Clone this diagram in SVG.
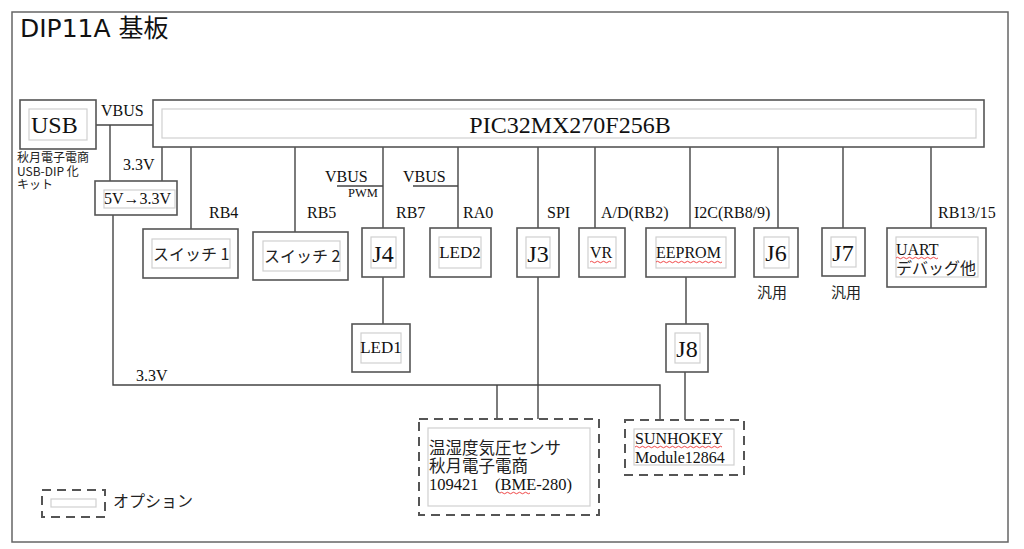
<svg xmlns="http://www.w3.org/2000/svg" width="1024" height="549" viewBox="0 0 1024 549">
<style>
.frame{fill:#fff;stroke:#666;stroke-width:1.5}
.box{fill:#fff;stroke:#555;stroke-width:1.6}
.opt{fill:#fff;stroke:#555;stroke-width:2;stroke-dasharray:9 6}
.inner{fill:none;stroke:#d0d0d0;stroke-width:1.2}
.wire{fill:none;stroke:#444;stroke-width:1.4}
.s{font-family:"Liberation Serif","Noto Sans CJK JP",serif;fill:#111}
.g{font-family:"DejaVu Sans","Noto Sans CJK JP",sans-serif;fill:#111}
.j{font-family:"Noto Sans CJK JP","DejaVu Sans",sans-serif;fill:#222}
.wave{fill:none;stroke:#e33;stroke-width:0.9}
</style>
<rect x="0" y="0" width="1024" height="549" fill="#fff"/>
<rect class="frame" x="12" y="12" width="996" height="530"/>
<text class="g" x="20" y="37" font-size="25">DIP11A 基板</text>

<g id="connectors">
  <path class="wire" d="M96,125 H153"/>
  <path class="wire" d="M110,125 V181"/>
  <path class="wire" d="M162,147 V181"/>
  <path class="wire" d="M113,215 V385 H660 V420"/>
  <path class="wire" d="M497,385 V419"/>
  <path class="wire" d="M191,147 V229"/>
  <path class="wire" d="M295,147 V232"/>
  <path class="wire" d="M383,147 V228"/>
  <path class="wire" d="M337,186 H383"/>
  <path class="wire" d="M458,147 V228"/>
  <path class="wire" d="M413,186 H458"/>
  <path class="wire" d="M538,147 V228"/>
  <path class="wire" d="M595,147 V228"/>
  <path class="wire" d="M690,147 V228"/>
  <path class="wire" d="M778,147 V228"/>
  <path class="wire" d="M843,147 V228"/>
  <path class="wire" d="M931,147 V228"/>
  <path class="wire" d="M383,277 V324"/>
  <path class="wire" d="M686,277 V324"/>
  <path class="wire" d="M685,372 V420"/>
  <path class="wire" d="M538,277 V419"/>
</g>

<g id="labels">
  <text class="s" x="101" y="116" font-size="16">VBUS</text>
  <text class="s" x="123" y="170" font-size="16">3.3V</text>
  <text class="s" x="209" y="218" font-size="16">RB4</text>
  <text class="s" x="307" y="218" font-size="16">RB5</text>
  <text class="s" x="325" y="182" font-size="16">VBUS</text>
  <text class="s" x="348" y="197" font-size="12.5">PWM</text>
  <text class="s" x="396" y="218" font-size="16">RB7</text>
  <text class="s" x="403" y="182" font-size="16">VBUS</text>
  <text class="s" x="463" y="218" font-size="16">RA0</text>
  <text class="s" x="547" y="218" font-size="16">SPI</text>
  <text class="s" x="601" y="218" font-size="16">A/D(RB2)</text>
  <text class="s" x="694" y="218" font-size="16">I2C(RB8/9)</text>
  <text class="s" x="938" y="218" font-size="16">RB13/15</text>
  <text class="s" x="136" y="381" font-size="16">3.3V</text>
</g>

<g id="usb">
  <rect class="box" x="20" y="100" width="76" height="49"/>
  <rect class="inner" x="29" y="109" width="58" height="31"/>
  <text class="s" x="31" y="133" font-size="24">USB</text>
  <text class="j" x="17" y="162" font-size="12">秋月電子電商</text>
  <text class="j" x="17" y="176" font-size="12">USB-DIP 化</text>
  <text class="j" x="17" y="189" font-size="12">キット</text>
</g>

<g id="pic">
  <rect class="box" x="153" y="100" width="831" height="47"/>
  <rect class="inner" x="162" y="109" width="814" height="29"/>
  <text class="s" x="570" y="133" font-size="24" text-anchor="middle">PIC32MX270F256B</text>
</g>

<g id="reg">
  <rect class="box" x="95" y="181" width="82" height="34"/>
  <rect class="inner" x="104" y="190" width="71" height="18"/>
  <text class="s" x="104" y="204" font-size="16">5V→3.3V</text>
</g>

<g id="sw1">
  <rect class="box" x="143" y="229" width="95" height="49"/>
  <rect class="inner" x="152" y="239" width="78" height="29"/>
  <text class="j" x="153" y="260" font-size="16">スイッチ 1</text>
</g>

<g id="sw2">
  <rect class="box" x="253" y="232" width="95" height="48"/>
  <rect class="inner" x="263" y="241" width="77" height="30"/>
  <text class="j" x="264" y="262" font-size="16">スイッチ 2</text>
</g>

<g id="j4">
  <rect class="box" x="362" y="228" width="42" height="49"/>
  <rect class="inner" x="371" y="237" width="25" height="31"/>
  <text class="s" x="383" y="262" font-size="24" text-anchor="middle">J4</text>
</g>

<g id="led2">
  <rect class="box" x="430" y="228" width="61" height="49"/>
  <rect class="inner" x="439" y="237" width="42" height="31"/>
  <text class="s" x="460" y="258" font-size="17" text-anchor="middle">LED2</text>
</g>

<g id="j3">
  <rect class="box" x="517" y="228" width="42" height="49"/>
  <rect class="inner" x="526" y="237" width="24" height="31"/>
  <text class="s" x="538" y="262" font-size="24" text-anchor="middle">J3</text>
</g>

<g id="vr">
  <rect class="box" x="579" y="228" width="46" height="49"/>
  <rect class="inner" x="588" y="237" width="28" height="31"/>
  <text class="s" x="590" y="258" font-size="16">VR</text>
  <path class="wave" d="M590,262 q1.5,-1.5 3,0 t3,0 t3,0 t3,0 t3,0 t3,0 t3,0"/>
</g>

<g id="eeprom">
  <rect class="box" x="646" y="228" width="89" height="49"/>
  <rect class="inner" x="656" y="237" width="70" height="31"/>
  <text class="s" x="656" y="258" font-size="16">EEPROM</text>
  <path class="wave" d="M656,262 q1.5,-1.5 3,0 t3,0 t3,0 t3,0 t3,0 t3,0 t3,0 t3,0 t3,0 t3,0 t3,0 t3,0 t3,0 t3,0 t3,0 t3,0 t3,0 t3,0 t3,0 t3,0 t3,0 t3,0"/>
</g>

<g id="j6">
  <rect class="box" x="754" y="228" width="44" height="49"/>
  <rect class="inner" x="764" y="237" width="25" height="31"/>
  <text class="s" x="776" y="261" font-size="24" text-anchor="middle">J6</text>
  <text class="j" x="757" y="298" font-size="15">汎用</text>
</g>

<g id="j7">
  <rect class="box" x="822" y="228" width="43" height="48"/>
  <rect class="inner" x="831" y="237" width="25" height="30"/>
  <text class="s" x="843" y="261" font-size="24" text-anchor="middle">J7</text>
  <text class="j" x="831" y="298" font-size="15">汎用</text>
</g>

<g id="uart">
  <rect class="box" x="887" y="228" width="99" height="59"/>
  <rect class="inner" x="896" y="237" width="82" height="40"/>
  <text class="s" x="896" y="255" font-size="16">UART</text>
  <path class="wave" d="M896,258 q1.5,-1.5 3,0 t3,0 t3,0 t3,0 t3,0 t3,0 t3,0 t3,0 t3,0 t3,0 t3,0 t3,0 t3,0 t3,0"/>
  <text class="j" x="896" y="274" font-size="16">デバッグ他</text>
</g>

<g id="led1">
  <rect class="box" x="352" y="324" width="58" height="48"/>
  <rect class="inner" x="361" y="333" width="40" height="30"/>
  <text class="s" x="381" y="353" font-size="17" text-anchor="middle">LED1</text>
</g>

<g id="j8">
  <rect class="box" x="666" y="324" width="42" height="48"/>
  <rect class="inner" x="675" y="333" width="25" height="30"/>
  <text class="s" x="687" y="357" font-size="24" text-anchor="middle">J8</text>
</g>

<g id="sensor">
  <rect class="opt" x="419" y="419" width="180" height="96"/>
  <rect class="inner" x="428" y="428" width="162" height="78"/>
  <text class="j" x="429" y="454" font-size="16.5">温湿度気圧センサ</text>
  <text class="j" x="429" y="472" font-size="16.5">秋月電子電商</text>
  <text class="s" x="429" y="490" font-size="16.5">109421　(BME-280)</text>
  <path class="wave" d="M500,493 q1.5,-1.5 3,0 t3,0 t3,0 t3,0 t3,0 t3,0 t3,0 t3,0 t3,0 t3,0"/>
</g>

<g id="lcd">
  <rect class="opt" x="625" y="420" width="119" height="55"/>
  <rect class="inner" x="634" y="429" width="100" height="36"/>
  <text class="s" x="635" y="444" font-size="16">SUNHOKEY</text>
  <path class="wave" d="M635,447 q1.5,-1.5 3,0 t3,0 t3,0 t3,0 t3,0 t3,0 t3,0 t3,0 t3,0 t3,0 t3,0 t3,0 t3,0 t3,0 t3,0 t3,0 t3,0 t3,0 t3,0 t3,0 t3,0 t3,0 t3,0 t3,0 t3,0 t3,0 t3,0 t3,0 t3,0"/>
  <text class="s" x="635" y="463" font-size="16">Module12864</text>
</g>

<g id="legend">
  <rect class="opt" x="42" y="490" width="63" height="27"/>
  <rect class="inner" x="51" y="499" width="45" height="8"/>
  <text class="j" x="113" y="507" font-size="16">オプション</text>
</g>
</svg>
